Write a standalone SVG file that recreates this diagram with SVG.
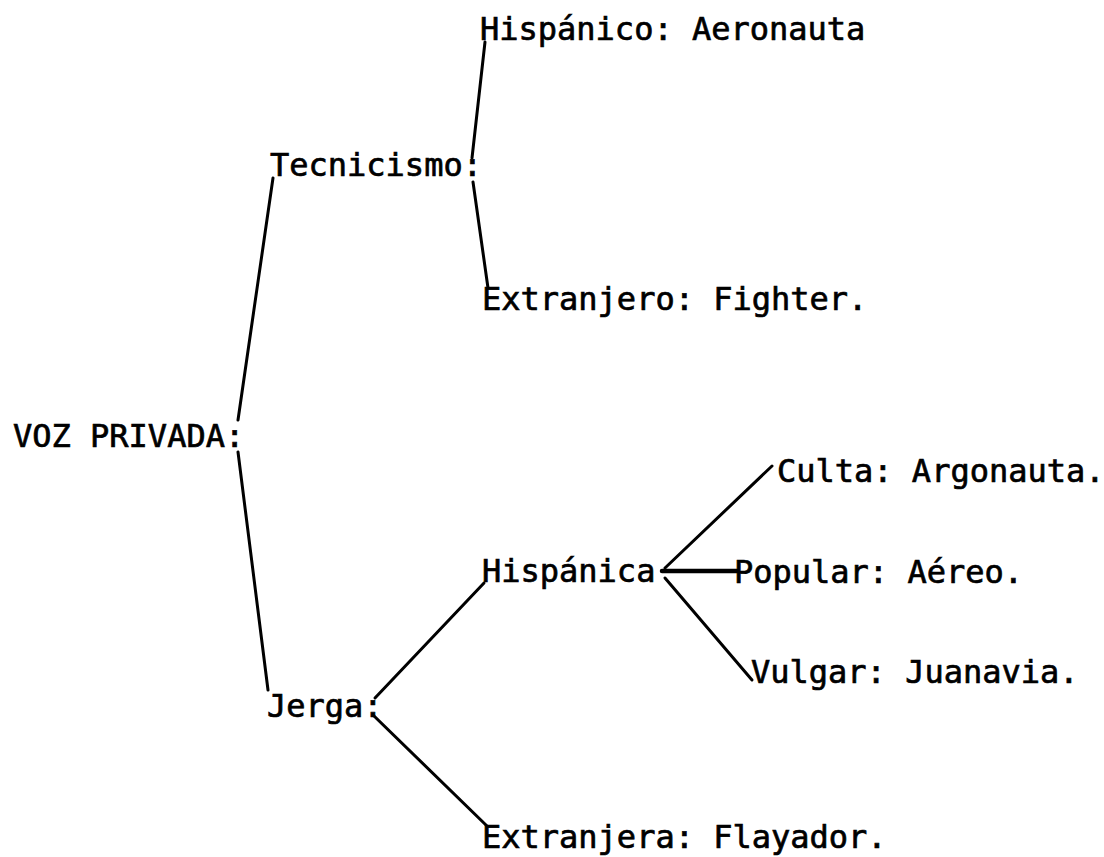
<svg xmlns="http://www.w3.org/2000/svg" width="1104" height="857" viewBox="0 0 1104 857">
  <style>
    text { font-family: "DejaVu Sans Mono", "Liberation Mono", monospace; font-size: 32px; fill: #000; stroke: #000; stroke-width: 0.7; }
    .ln { stroke: #000; stroke-width: 3; stroke-linecap: round; fill: none; }
    .thick { stroke-width: 4.5; }
  </style>
  <rect width="1104" height="857" fill="#fff"/>
  <g id="connectors">
    <line class="ln" x1="238" y1="420" x2="273" y2="178"/>
    <line class="ln" x1="238" y1="452" x2="268" y2="690"/>
    <line class="ln" x1="472" y1="158" x2="485" y2="42"/>
    <line class="ln" x1="473" y1="182" x2="488" y2="288"/>
    <line class="ln" x1="375" y1="698" x2="484" y2="583"/>
    <line class="ln" x1="373" y1="715" x2="487" y2="826"/>
    <line class="ln" x1="665" y1="568" x2="772" y2="466"/>
    <line class="ln thick" x1="662" y1="571" x2="737" y2="571"/>
    <line class="ln" x1="665" y1="578" x2="752" y2="680"/>
  </g>
  <g id="n-voz"><text x="13" y="447">VOZ PRIVADA:</text></g>
  <g id="n-tecnicismo"><text x="270" y="176">Tecnicismo:</text></g>
  <g id="n-hispanico"><text x="480" y="40">Hispánico: Aeronauta</text></g>
  <g id="n-extranjero"><text x="482" y="310">Extranjero: Fighter.</text></g>
  <g id="n-jerga"><text x="267" y="717">Jerga:</text></g>
  <g id="n-hispanica"><text x="482" y="582">Hispánica</text></g>
  <g id="n-culta"><text x="777" y="482">Culta: Argonauta.</text></g>
  <g id="n-popular"><text x="734" y="583">Popular: Aéreo.</text></g>
  <g id="n-vulgar"><text x="751" y="683">Vulgar: Juanavia.</text></g>
  <g id="n-extranjera"><text x="482" y="848">Extranjera: Flayador.</text></g>
</svg>
